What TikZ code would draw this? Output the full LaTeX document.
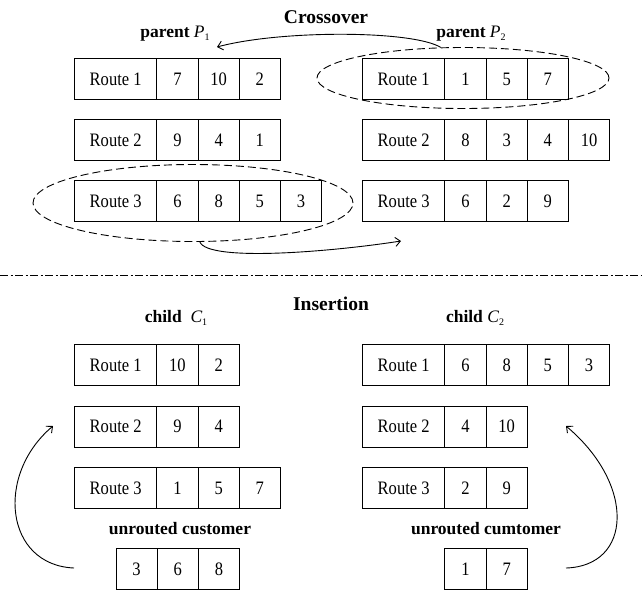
\documentclass[tikz,border=0pt]{standalone}
\usepackage{fontspec}
\setmainfont{Liberation Serif}
\newfontfamily\cellfont{Liberation Serif}[FakeStretch=0.87]
\usetikzlibrary{shapes.geometric,arrows.meta}

% a route: label cell followed by customer cells
\newcommand{\routerow}[5]{%
  \node[routelabel] (#1-0) at (#2,#3) {#4};
  \foreach \v [count=\i] in {#5}
    \node[routecell] (#1-\i) at ({#2+82.4+(\i-1)*41.2},#3) {\v};
}
% a plain row of customer cells
\newcommand{\cellrow}[4]{%
  \foreach \v [count=\i] in {#4}
    \node[routecell] (#1-\i) at ({#2+(\i-1)*41.2},#3) {\v};
}
% italic symbol with a small lowered index
\newcommand{\pidx}[2]{{\normalfont\itshape #1}\raisebox{-0.4ex}{\normalfont\fontsize{10}{10}\selectfont #2}}

\tikzset{
  box/.style={draw, line width=0.9pt, anchor=north west, minimum height=41pt,
    inner sep=0pt, font=\cellfont\fontsize{19}{22}\selectfont},
  routelabel/.style={box, minimum width=82.4pt},
  routecell/.style={box, minimum width=41.2pt},
  title/.style={font=\bfseries\fontsize{19.5}{22}\selectfont, anchor=base, inner sep=0pt},
  caption/.style={font=\bfseries\fontsize{17.5}{20}\selectfont, anchor=base, inner sep=0pt},
  group/.style={draw, ellipse, line width=0.9pt, dash pattern=on 8pt off 4pt, inner sep=0pt},
  flow/.style={line width=0.9pt, -{Straight Barb[length=5pt,width=9pt]}},
  divider/.style={line width=0.9pt, dash pattern=on 8pt off 2.5pt on 2pt off 2.5pt}
}

\begin{document}
\begin{tikzpicture}[x=1pt,y=-1pt]
\useasboundingbox (0,0) rectangle (642,590);

% ---------- crossover ----------
\node[title] (tcross) at (326,23) {Crossover};
\node[caption] (tp1) at (175,37) {parent \pidx{P}{1}};
\node[caption] (tp2) at (471,37) {parent \pidx{P}{2}};

\routerow{pa}{74}{58}{Route 1}{7,10,2}
\routerow{pb}{74}{119}{Route 2}{9,4,1}
\routerow{pc}{74}{180}{Route 3}{6,8,5,3}

\routerow{qa}{362}{58}{Route 1}{1,5,7}
\routerow{qb}{362}{119}{Route 2}{8,3,4,10}
\routerow{qc}{362}{180}{Route 3}{6,2,9}

\node[group, minimum width=292pt, minimum height=61pt] (pick2) at (463,78) {};
\node[group, minimum width=320pt, minimum height=77pt] (pick1) at (193,203) {};

\coordinate (recv1) at (217,47);
\coordinate (recv2) at (401,241);
\draw[flow] (pick2.126) .. controls (412,30) and (280,30) .. (recv1);
\draw[flow] (pick1.-80) .. controls (208,262) and (330,252) .. (recv2);

% ---------- divider ----------
\coordinate (divl) at (0,275);
\coordinate (divr) at (642,275);
\draw[divider] (divl) -- (divr);

% ---------- insertion ----------
\node[title] (tins) at (331,310) {Insertion};
\node[caption] (tc1) at (176,322) {child \ \pidx{C}{1}};
\node[caption] (tc2) at (475,322) {child \pidx{C}{2}};

\routerow{ca}{74}{344}{Route 1}{10,2}
\routerow{cb}{74}{405.5}{Route 2}{9,4}
\routerow{cc}{74}{467}{Route 3}{1,5,7}

\routerow{da}{362}{344}{Route 1}{6,8,5,3}
\routerow{db}{362}{405.5}{Route 2}{4,10}
\routerow{dc}{362}{467}{Route 3}{2,9}

\node[caption] (tu1) at (180,534) {unrouted customer};
\node[caption] (tu2) at (486,534) {unrouted cumtomer};
\cellrow{ua}{115.5}{548}{3,6,8}
\cellrow{ub}{444.4}{548}{1,7}

\coordinate (ins1s) at (74,568);
\coordinate (ins1e) at (53,426);
\coordinate (ins2s) at (566,568);
\coordinate (ins2e) at (566,426);
\draw[flow] (ins1s) .. controls (5,565) and (-5,475) .. (ins1e);
\draw[flow] (ins2s) .. controls (632,566) and (636,485) .. (ins2e);
\end{tikzpicture}
\end{document}
